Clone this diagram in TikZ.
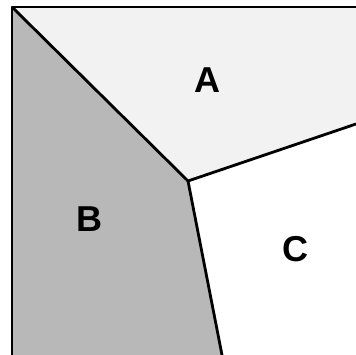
\documentclass[tikz,border=0pt]{standalone}
\usepackage{fontspec}
\setmainfont{Liberation Sans}
\usepackage{tikz}
\tikzset{
  edge/.style ={draw=black, line width=2.8pt, line join=round},
  lbl/.style  ={font=\fontsize{36}{40}\selectfont\bfseries, inner sep=0pt},
}
\definecolor{areaA}{gray}{0.95}
\definecolor{areaB}{gray}{0.72}
\begin{document}
\begin{tikzpicture}[x=1pt, y=1pt]
  \useasboundingbox (0,0) rectangle (356,355);
  % corners of the plate
  \coordinate (tl) at (12,348);
  \coordinate (tr) at (356,348);
  \coordinate (bl) at (12,0);
  \coordinate (br) at (356,0);
  % meeting point and free ends of the borders
  \coordinate (m) at (188,174);
  \coordinate (re) at (356,231);
  \coordinate (be) at (222,0);
  % areas
  \fill[areaA] (tl) -- (tr) -- (re) -- (m) -- cycle;
  \fill[areaB] (tl) -- (m) -- (be) -- (bl) -- cycle;
  \fill[white] (m) -- (re) -- (br) -- (be) -- cycle;
  % borders
  \draw[edge] (bl) -- (tl) -- (tr);
  \draw[edge] (tl) -- (m);
  \draw[edge] (m) -- (re);
  \draw[edge] (m) -- (be);
  % labels
  \node[lbl] (la) at (207,275) {A};
  \node[lbl] (lb) at (89,136) {B};
  \node[lbl] (lc) at (295,106) {C};
\end{tikzpicture}
\end{document}
